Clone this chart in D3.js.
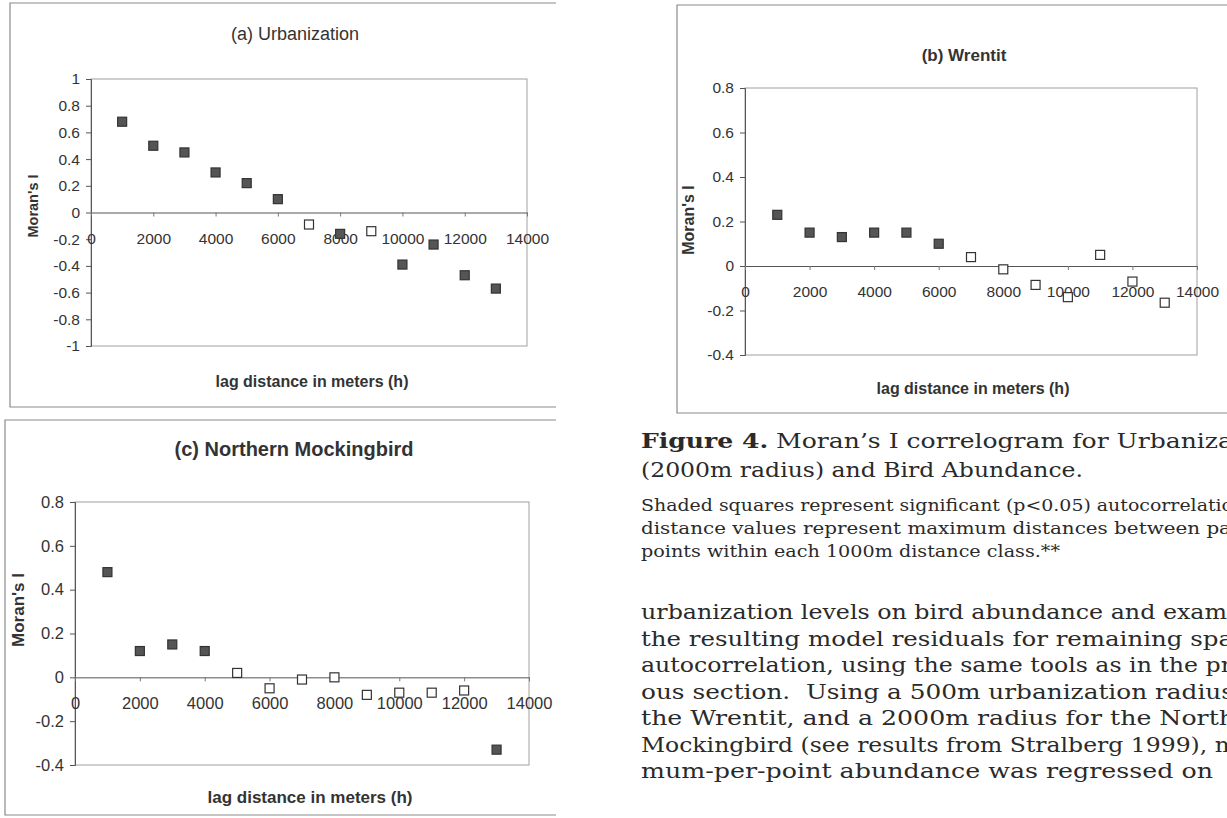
<!DOCTYPE html>
<html>
<head>
    <title>Moran's I correlograms</title>
    <style>
        body { margin: 0; background: #fff; }
        svg { display: block; }
        .tick text { font-family: "Liberation Sans", Arial, sans-serif; fill: #333; }
        .axtitle { font-family: "Liberation Sans", Arial, sans-serif; font-weight: bold; fill: #333; }
        .serif { font-family: "DejaVu Serif", "Liberation Serif", serif; fill: #2a2a2a; }
    </style>
    <script src="https://d3js.org/d3.v7.min.js"></script>
</head>
<body>
<div id="page"></div>
<script>
// lag distance classes (m)
var lags = [1000, 2000, 3000, 4000, 5000, 6000, 7000, 8000, 9000, 10000, 11000, 12000, 13000];
var xTicks = [0, 2000, 4000, 6000, 8000, 10000, 12000, 14000];

// (a) Urbanization
var urbanI   = [0.68, 0.50, 0.45, 0.30, 0.22, 0.10, -0.09, -0.16, -0.14, -0.39, -0.24, -0.47, -0.57];
var urbanSig = [1, 1, 1, 1, 1, 1, 0, 1, 0, 1, 1, 1, 1];
var urbanTicks = [1, 0.8, 0.6, 0.4, 0.2, 0, -0.2, -0.4, -0.6, -0.8, -1];

// (b) Wrentit
var wrentitI   = [0.23, 0.15, 0.13, 0.15, 0.15, 0.10, 0.04, -0.015, -0.085, -0.14, 0.05, -0.07, -0.165];
var wrentitSig = [1, 1, 1, 1, 1, 1, 0, 0, 0, 0, 0, 0, 0];

// (c) Northern Mockingbird
var mockI   = [0.48, 0.12, 0.15, 0.12, 0.02, -0.05, -0.01, 0.0, -0.08, -0.07, -0.07, -0.06, -0.33];
var mockSig = [1, 1, 1, 1, 0, 0, 0, 0, 0, 0, 0, 0, 1];
var birdTicks = [0.8, 0.6, 0.4, 0.2, 0, -0.2, -0.4];

var svg = d3.select('#page').append('svg')
    .attr('width', 1227)
    .attr('height', 818);

function fmt(d) { return d === 0 ? '0' : String(+d.toFixed(1)); }

function drawPanel(p) {
    var g = svg.append('g');

    // outer chart border
    g.append('path')
        .attr('d', p.frame)
        .attr('fill', 'none')
        .attr('stroke', '#8a8a8a')
        .attr('stroke-width', 1.2);

    var x = d3.scaleLinear().domain([0, 14000]).range(p.xr);
    var y = d3.scaleLinear().domain(p.yd).range(p.yr);

    // plot area border
    g.append('rect')
        .attr('x', x(0)).attr('y', y(p.yd[1]))
        .attr('width', x(14000) - x(0))
        .attr('height', y(p.yd[0]) - y(p.yd[1]))
        .attr('fill', 'none')
        .attr('stroke', '#a0a0a0')
        .attr('stroke-width', 1);

    // y axis
    var ya = g.append('g')
        .attr('transform', 'translate(' + x(0) + ',0)')
        .call(d3.axisLeft(y).tickValues(p.yTicks).tickFormat(fmt).tickSize(5).tickPadding(6));
    ya.select('.domain').attr('stroke', '#555');
    ya.selectAll('.tick line').attr('stroke', '#555');
    ya.selectAll('.tick text').style('font-size', p.fs + 'px');

    // x axis at zero
    var xa = g.append('g')
        .attr('transform', 'translate(0,' + y(0) + ')')
        .call(d3.axisBottom(x).tickValues(xTicks).tickFormat(d3.format('d')).tickSizeInner(4).tickSizeOuter(0).tickPadding(p.xpad));
    xa.select('.domain').attr('stroke', '#555');
    xa.selectAll('.tick line').attr('stroke', '#777');
    xa.selectAll('.tick text').style('font-size', p.fs + 'px');

    // markers
    var pts = lags.map(function(d, i) { return { lag: d, v: p.vals[i], sig: p.sig[i] }; });
    g.selectAll('rect.pt')
        .data(pts)
        .enter()
        .append('rect')
        .attr('class', 'pt')
        .attr('x', function(d) { return x(d.lag) - 4.5; })
        .attr('y', function(d) { return y(d.v) - 4.5; })
        .attr('width', 9)
        .attr('height', 9)
        .attr('fill', function(d) { return d.sig ? '#555' : '#fff'; })
        .attr('stroke', '#333')
        .attr('stroke-width', 1.2);

    // titles
    g.append('text')
        .attr('x', p.title[0]).attr('y', p.title[1])
        .attr('text-anchor', 'middle')
        .attr('class', 'axtitle')
        .style('font-weight', p.titleBold ? 'bold' : 'normal')
        .style('font-size', p.titleFs + 'px')
        .text(p.name);

    g.append('text')
        .attr('class', 'axtitle')
        .attr('transform', 'translate(' + p.ylab[0] + ',' + p.ylab[1] + ') rotate(-90)')
        .attr('text-anchor', 'middle')
        .style('font-size', p.ylabFs + 'px')
        .text("Moran's I");

    g.append('text')
        .attr('class', 'axtitle')
        .attr('x', p.xlab[0]).attr('y', p.xlab[1])
        .attr('text-anchor', 'middle')
        .style('font-size', p.labFs + 'px')
        .text('lag distance in meters (h)');
}

drawPanel({
    name: '(a) Urbanization', titleBold: false, titleFs: 18, title: [295, 40],
    frame: 'M556,3 H10 V407 H556',
    xr: [91, 527], yd: [-1, 1], yr: [346, 79], yTicks: urbanTicks,
    vals: urbanI, sig: urbanSig, fs: 15.5, xpad: 16, labFs: 16, ylabFs: 14.5,
    ylab: [38, 206], xlab: [312, 387]
});

drawPanel({
    name: '(b) Wrentit', titleBold: true, titleFs: 17, title: [964, 61],
    frame: 'M1227,5 H677 V413 H1227',
    xr: [745, 1197], yd: [-0.4, 0.8], yr: [355, 88], yTicks: birdTicks,
    vals: wrentitI, sig: wrentitSig, fs: 15.5, xpad: 16, labFs: 16, ylabFs: 16,
    ylab: [694, 220], xlab: [973, 394]
});

drawPanel({
    name: '(c) Northern Mockingbird', titleBold: true, titleFs: 20, title: [294, 456],
    frame: 'M556,420 H5 V815 H556',
    xr: [75, 529], yd: [-0.4, 0.8], yr: [765, 502], yTicks: birdTicks,
    vals: mockI, sig: mockSig, fs: 16.5, xpad: 16, labFs: 17, ylabFs: 17,
    ylab: [24, 610], xlab: [310, 803]
});

// caption and body text (justified lines, clipped at page edge)
var caption = [
    { y: 448, size: 21, w: 592, bold: 'Figure 4.', text: ' Moran\u2019s I correlogram for Urbaniza' },
    { y: 477, size: 21, w: 442, bold: '', text: '(2000m radius) and Bird Abundance.' }
];
var notes = [
    { y: 511, size: 16.5, w: 592, text: 'Shaded squares represent significant (p<0.05) autocorrelatio' },
    { y: 534, size: 16.5, w: 590, text: 'distance values represent maximum distances between pa' },
    { y: 557, size: 16.5, w: 419, text: 'points within each 1000m distance class.**' }
];
var body = [
    { y: 619, w: 586, text: 'urbanization levels on bird abundance and exam' },
    { y: 645.5, w: 592, text: 'the resulting model residuals for remaining spa' },
    { y: 672, w: 591, text: 'autocorrelation, using the same tools as in the pr' },
    { y: 698.5, w: 593, text: 'ous section.  Using a 500m urbanization radius' },
    { y: 725, w: 594, text: 'the Wrentit, and a 2000m radius for the North' },
    { y: 751.5, w: 596, text: 'Mockingbird (see results from Stralberg 1999), m' },
    { y: 778, w: 572, text: 'mum-per-point abundance was regressed on' }
];

var tx = 641;
caption.forEach(function(c) {
    var t = svg.append('text')
        .attr('class', 'serif')
        .attr('x', tx).attr('y', c.y)
        .attr('textLength', c.w)
        .attr('lengthAdjust', 'spacingAndGlyphs')
        .style('font-size', c.size + 'px')
        .style('white-space', 'pre');
    if (c.bold) t.append('tspan').style('font-weight', 'bold').text(c.bold);
    t.append('tspan').text(c.text);
});
notes.forEach(function(c) {
    svg.append('text')
        .attr('class', 'serif')
        .attr('x', tx).attr('y', c.y)
        .attr('textLength', c.w)
        .attr('lengthAdjust', 'spacingAndGlyphs')
        .style('font-size', c.size + 'px')
        .text(c.text);
});
body.forEach(function(c) {
    svg.append('text')
        .attr('class', 'serif')
        .attr('x', tx).attr('y', c.y)
        .attr('textLength', c.w)
        .attr('lengthAdjust', 'spacingAndGlyphs')
        .style('font-size', '21px')
        .style('white-space', 'pre')
        .text(c.text);
});
</script>
</body>
</html>
